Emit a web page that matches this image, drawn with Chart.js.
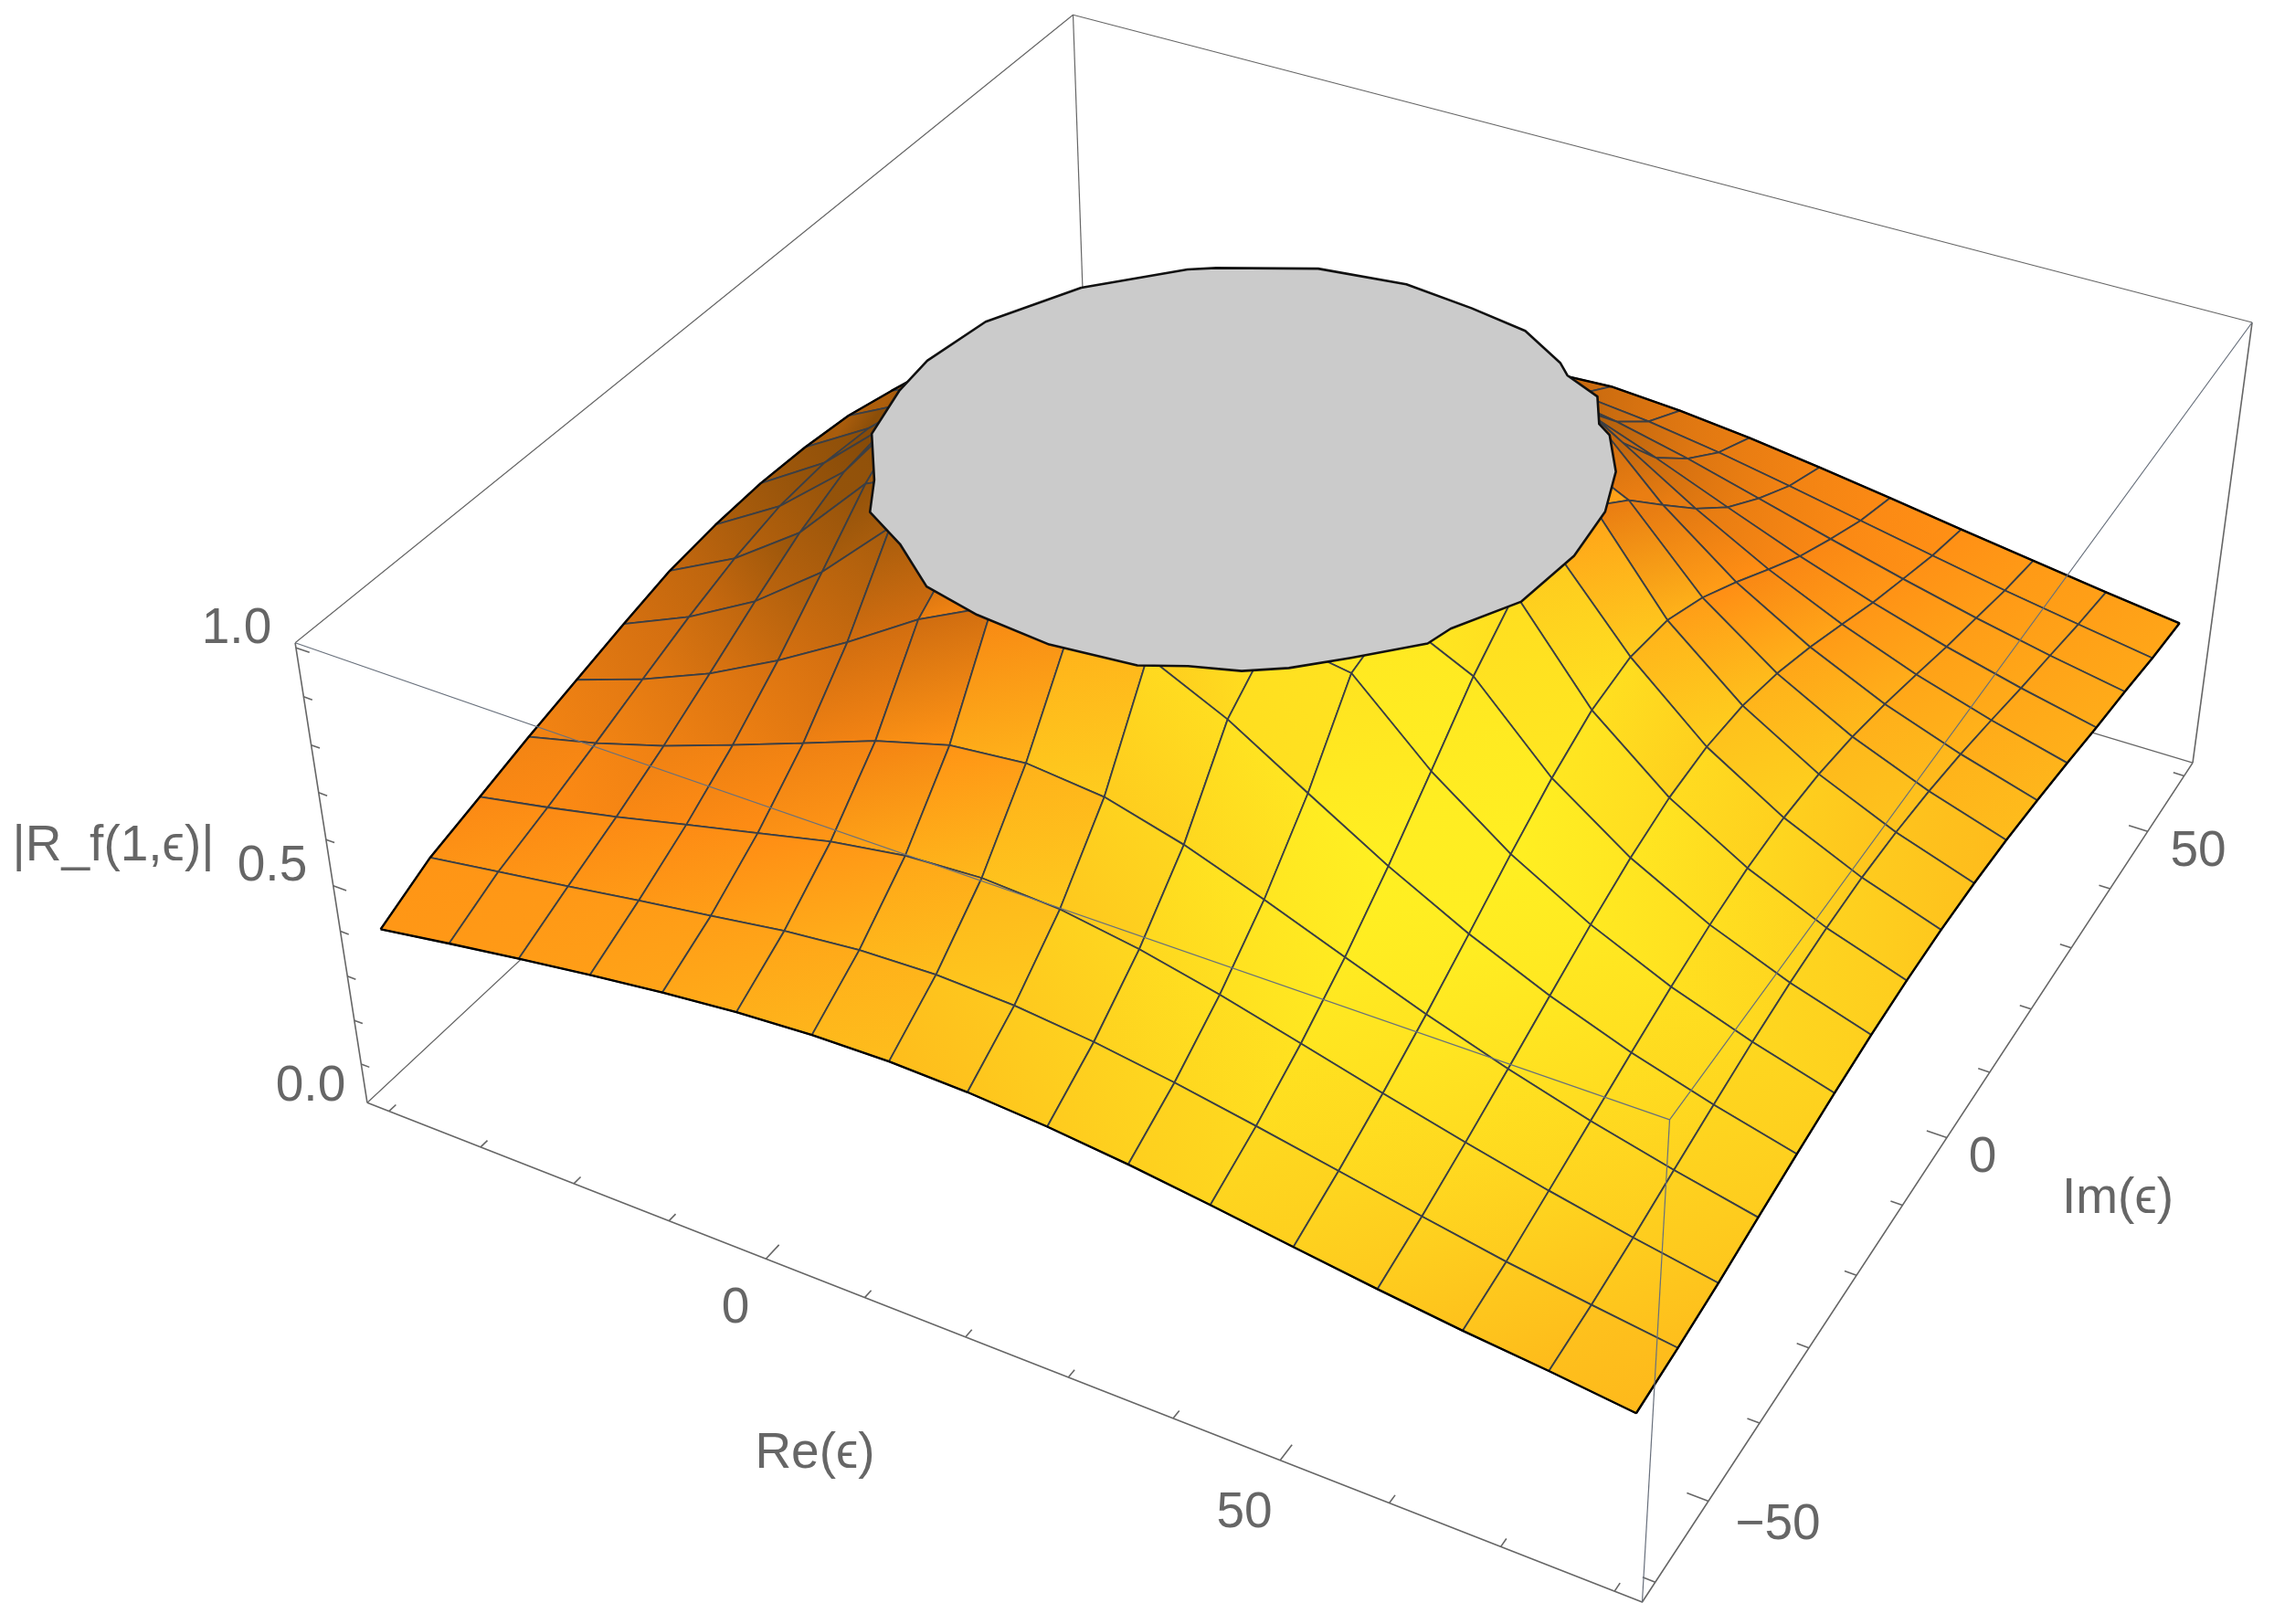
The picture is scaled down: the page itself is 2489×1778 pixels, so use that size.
<!DOCTYPE html>
<html>
<head>
<meta charset="utf-8">
<style>
  html, body { margin: 0; padding: 0; background: #fff; }
  canvas { display: block; }
</style>
<script src="https://cdn.jsdelivr.net/npm/chart.js@4"></script>
</head>
<body>
<canvas id="chart" width="2489" height="1778"></canvas>
<script>
// grid of the surface
const reValues = [-40, -32.5, -25, -17.5, -10, -2.5, 5, 12.5, 20, 27.5, 35, 42.5, 50, 57.5, 65, 72.5, 80]
const imValues = [-60, -52.5, -45, -37.5, -30, -22.5, -15, -7.5, 0, 7.5, 15, 22.5, 30, 37.5, 45, 52.5, 60]

// |R_f|, one row per Im value, clipped at 1
const zRows = [
  [.389, .415, .440, .463, .484, .501, .512, .516, .512, .501, .484, .462, .438, .415, .394, .377, .357],
  [.443, .468, .492, .518, .542, .567, .584, .590, .584, .567, .542, .512, .480, .448, .417, .392, .368],
  [.476, .507, .541, .579, .616, .653, .679, .688, .679, .653, .616, .573, .529, .487, .448, .413, .382],
  [.510, .549, .596, .651, .708, .766, .810, .826, .810, .766, .708, .645, .584, .529, .480, .438, .401],
  [.540, .593, .657, .736, .826, .924, 1, 1, 1, .924, .826, .730, .645, .573, .512, .462, .419],
  [.570, .636, .720, .832, .974, 1, 1, 1, 1, 1, .974, .826, .708, .616, .542, .484, .435],
  [.597, .673, .778, .930, 1, 1, 1, 1, 1, 1, 1, .924, .766, .653, .567, .501, .448],
  [.610, .699, .822, 1, 1, 1, 1, 1, 1, 1, 1, 1, .810, .679, .584, .512, .456],
  [.615, .708, .838, 1, 1, 1, 1, 1, 1, 1, 1, 1, .826, .688, .590, .516, .459],
  [.610, .699, .822, 1, 1, 1, 1, 1, 1, 1, 1, 1, .810, .679, .584, .512, .456],
  [.597, .673, .778, .930, 1, 1, 1, 1, 1, 1, 1, .924, .766, .653, .567, .501, .448],
  [.570, .636, .720, .832, .974, 1, 1, 1, 1, 1, .974, .826, .708, .616, .542, .484, .435],
  [.540, .593, .657, .736, .826, .924, 1, 1, 1, .924, .826, .730, .645, .573, .512, .462, .419],
  [.510, .549, .596, .651, .708, .766, .810, .826, .810, .766, .708, .645, .584, .529, .480, .438, .401],
  [.462, .499, .537, .577, .616, .653, .679, .688, .683, .657, .620, .577, .533, .491, .452, .417, .386],
  [.430, .455, .484, .514, .542, .567, .584, .590, .590, .573, .548, .518, .486, .454, .423, .395, .368],
  [.389, .413, .438, .462, .484, .501, .512, .516, .524, .513, .496, .474, .450, .425, .401, .377, .355]
]

// outline of the clipped top
const capRe = [-14.8, -19.4, -20.5, -20, -18.3, -14.1, -11.7, -6.8, -1.4, 4.5, 12, 19.9, 23.6, 27.8, 31, 34.8, 39.4, 40.1, 43.5, 44.4, 43.8, 41.9, 38.9, 37.3, 35.2, 31.3, 29.8, 24.6, 18.5, 11.3, 2.8, -5.6, -7.8]
const capIm = [17.7, 8.4, .2, -5.2, -12.4, -18.5, -22.9, -25.8, -30.1, -31.6, -32.4, -31.5, -29.6, -28.1, -25.9, -22.2, -17.4, -14.6, -8.3, -.1, 7.2, 13.3, 18.3, 19.5, 23.5, 25.4, 27, 30.4, 31.6, 32.5, 31.1, 26.7, 25.2]

const reTicks = [-40, -30, -20, -10, 0, 10, 20, 30, 40, 50, 60, 70, 80]
const imTicks = [-60, -50, -40, -30, -20, -10, 0, 10, 20, 30, 40, 50, 60]
const zTicks = [.1, .2, .3, .4, .5, .6, .7, .8, .9, 1]
const majorRe = [0, 50]
const majorIm = [-50, 0, 50]
const majorZ = [.5, 1]

// ── Projection ───────────────────────────────────────────────────────────
// box ranges, and where the eight box corners sit on the image plane

const reBox = [-42.4, 82.4], imBox = [-62.4, 62.4], zBox = [.01, 1.01]

const boxCorners = [
  [0, 0, 0, 402, 1207], [1, 0, 0, 1798, 1754], [1, 1, 0, 2400, 835], [0, 1, 0, 1190, 472],
  [0, 0, 1, 323, 704],  [1, 0, 1, 1827, 1226], [1, 1, 1, 2465, 353], [0, 1, 1, 1175, 16]
]

function solve(A, b) {
  const n = b.length
  for (let c = 0; c < n; c++) {
    let p = c
    for (let r = c + 1; r < n; r++) if (Math.abs(A[r][c]) > Math.abs(A[p][c])) p = r
    ;[A[c], A[p]] = [A[p], A[c]]; [b[c], b[p]] = [b[p], b[c]]
    for (let r = c + 1; r < n; r++) {
      const f = A[r][c] / A[c][c]
      for (let k = c; k < n; k++) A[r][k] -= f * A[c][k]
      b[r] -= f * b[c]
    }
  }
  const x = new Array(n)
  for (let r = n - 1; r >= 0; r--) {
    let s = b[r]
    for (let k = r + 1; k < n; k++) s -= A[r][k] * x[k]
    x[r] = s / A[r][r]
  }
  return x
}

function fitCamera() {
  const rows = [], rhs = []
  for (const [X, Y, Z, u, v] of boxCorners) {
    const U = u / 1000, V = v / 1000
    rows.push([X, Y, Z, 1, 0, 0, 0, 0, -U * X, -U * Y, -U * Z]); rhs.push(U)
    rows.push([0, 0, 0, 0, X, Y, Z, 1, -V * X, -V * Y, -V * Z]); rhs.push(V)
  }
  const N = Array.from({ length: 11 }, () => new Array(11).fill(0))
  const t = new Array(11).fill(0)
  rows.forEach((r, k) => {
    for (let i = 0; i < 11; i++) {
      t[i] += r[i] * rhs[k]
      for (let j = 0; j < 11; j++) N[i][j] += r[i] * r[j]
    }
  })
  return solve(N, t)
}

const cam = fitCamera()

function project(re, im, z) {
  const X = (re - reBox[0]) / (reBox[1] - reBox[0])
  const Y = (im - imBox[0]) / (imBox[1] - imBox[0])
  const Z = (z - zBox[0]) / (zBox[1] - zBox[0])
  const w = cam[8] * X + cam[9] * Y + cam[10] * Z + 1
  return {
    x: 1000 * (cam[0] * X + cam[1] * Y + cam[2] * Z + cam[3]) / w,
    y: 1000 * (cam[4] * X + cam[5] * Y + cam[6] * Z + cam[7]) / w
  }
}

// ── Shading ──────────────────────────────────────────────────────────────

const light = [.5, -.4, .77]
const ramp = [
  [.10, [96, 52, 6]], [.35, [150, 84, 10]], [.55, [210, 110, 16]], [.74, [255, 140, 20]],
  [.80, [255, 165, 24]], [.887, [254, 196, 29]], [1, [255, 240, 34]]
]

function rampColor(t) {
  if (t <= ramp[0][0]) return `rgb(${ramp[0][1]})`
  for (let k = 1; k < ramp.length; k++) {
    if (t <= ramp[k][0]) {
      const [t0, c0] = ramp[k - 1], [t1, c1] = ramp[k]
      const f = (t - t0) / (t1 - t0)
      return `rgb(${c0.map((c, i) => Math.round(c + (c1[i] - c) * f))})`
    }
  }
  return `rgb(${ramp[ramp.length - 1][1]})`
}

function slopeAt(prev, mid, next) {
  const p = prev !== undefined && prev < 1, n = next !== undefined && next < 1
  if (p && n) return (next - prev) / 2
  if (n) return next - mid
  if (p) return mid - prev
  return 0
}

function openShade(i, j) {
  const k = .4 * 125 / 7.5
  const gx = k * slopeAt(zRows[j][i - 1], zRows[j][i], zRows[j][i + 1])
  const gy = k * slopeAt(zRows[j - 1]?.[i], zRows[j][i], zRows[j + 1]?.[i])
  const len = Math.hypot(gx, gy, 1)
  return (-gx * light[0] - gy * light[1] + light[2]) / len
}

// a clipped vertex has no slope of its own, it takes the mean of its open neighbours
function shadeAt(i, j) {
  if (zRows[j][i] < 1) return openShade(i, j)
  let sum = 0, n = 0
  for (let b = j - 1; b <= j + 1; b++) {
    for (let a = i - 1; a <= i + 1; a++) {
      if (zRows[b][a] < 1) { sum += openShade(a, b); n++ }
    }
  }
  return n ? sum / n : .5
}

const canvas = document.getElementById("chart")
const ctx = canvas.getContext("2d")

function cellFill(i, j, pts) {
  const t = [shadeAt(i, j), shadeAt(i + 1, j), shadeAt(i + 1, j + 1), shadeAt(i, j + 1)]
  const a = Math.abs(t[0] - t[2]) >= Math.abs(t[1] - t[3]) ? 0 : 1
  const g = ctx.createLinearGradient(pts[a].x, pts[a].y, pts[a + 2].x, pts[a + 2].y)
  g.addColorStop(0, rampColor(t[a]))
  g.addColorStop(1, rampColor(t[a + 2]))
  return g
}

// ── Datasets ─────────────────────────────────────────────────────────────

let drawOrder = 100000
const datasets = []

function addLine(points, color, width, extra) {
  datasets.push({
    data: points, showLine: true, pointRadius: 0, borderColor: color, borderWidth: width,
    tension: 0, fill: false, clip: false, order: drawOrder--, borderJoinStyle: "round",
    ...extra
  })
}

const boxColor = "#666"
const P = (a, b, c) => project(reBox[a], imBox[b], c ? zBox[1] : zBox[0])

// back of the box goes under the surface
addLine([P(0, 0, 0), P(0, 1, 0), P(1, 1, 0)], boxColor, 1.2)
addLine([P(0, 0, 1), P(0, 1, 1), P(1, 1, 1)], boxColor, 1.2)
addLine([P(0, 1, 0), P(0, 1, 1)], boxColor, 1.2)
addLine([P(0, 0, 0), P(1, 0, 0), P(1, 1, 0)], boxColor, 1.6)
addLine([P(0, 0, 0), P(0, 0, 1)], boxColor, 1.6)
addLine([P(1, 1, 0), P(1, 1, 1)], boxColor, 1.6)

// ticks point into the box
for (const re of reTicks) {
  const len = majorRe.includes(re) ? 2 : 1
  addLine([project(re, imBox[0], zBox[0]), project(re, imBox[0] + len, zBox[0])], boxColor, 1.6)
}
for (const im of imTicks) {
  const len = majorIm.includes(im) ? 1.9 : 1.1
  addLine([project(reBox[1], im, zBox[0]), project(reBox[1] - len, im, zBox[0])], boxColor, 1.6)
}
for (const z of zTicks) {
  const len = majorZ.includes(z) ? 1.4 : .9
  addLine([project(reBox[0], imBox[0], z), project(reBox[0] + len, imBox[0], z)], boxColor, 1.6)
}

// surface cells, far corner first
const meshColor = "#3b3f45"
for (let j = imValues.length - 2; j >= 0; j--) {
  for (let i = 0; i < reValues.length - 1; i++) {
    const pts = [[i, j], [i + 1, j], [i + 1, j + 1], [i, j + 1]]
      .map(([a, b]) => project(reValues[a], imValues[b], zRows[b][a]))
    addLine([...pts, pts[0]], meshColor, 1.8, { fill: "shape", backgroundColor: cellFill(i, j, pts) })
  }
}

// outline of the surface
const edgeColor = "#000"
addLine(reValues.map((re, i) => project(re, imValues[0], zRows[0][i])), edgeColor, 2.4)
addLine(imValues.map((im, j) => project(reValues[16], im, zRows[j][16])), edgeColor, 2.4)
addLine(reValues.map((re, i) => project(re, imValues[16], zRows[16][i])), edgeColor, 2.4)
addLine(imValues.map((im, j) => project(reValues[0], im, zRows[j][0])), edgeColor, 2.4)

// clipped top
const capPoints = capRe.map((re, k) => project(re, capIm[k], 1))
addLine([...capPoints, capPoints[0]], "#111", 2.6, { fill: "shape", backgroundColor: "#cbcbcb" })

// front of the box runs over everything
addLine([P(0, 0, 1), P(1, 0, 1), P(1, 1, 1)], "#68707c", 1.2)
addLine([P(1, 0, 1), P(1, 0, 0)], "#68707c", 1.2)

// ── Text ─────────────────────────────────────────────────────────────────

const labels = [
  ["1.0", 259, 689], ["0.5", 298, 949], ["0.0", 340, 1190],
  ["|R_f(1,\u03F5)|", 124, 927],
  ["0", 805, 1433], ["50", 1362, 1657], ["Re(\u03F5)", 892, 1592],
  ["\u221250", 1946, 1670], ["0", 2170, 1268], ["50", 2406, 933], ["Im(\u03F5)", 2318, 1313]
]

const textPlugin = {
  id: "plotText",
  afterDraw(chart) {
    const c = chart.ctx
    c.save()
    c.fillStyle = "#666"
    c.font = '55px "Liberation Sans"'
    c.textAlign = "center"
    c.textBaseline = "middle"
    for (const [text, x, y] of labels) c.fillText(text, x, y)
    c.restore()
  }
}

new Chart(canvas, {
  type: "scatter",
  data: { datasets },
  plugins: [textPlugin],
  options: {
    responsive: false,
    animation: false,
    events: [],
    layout: { padding: 0 },
    plugins: { legend: { display: false }, tooltip: { enabled: false } },
    scales: {
      x: { type: "linear", display: false, min: 0, max: 2489 },
      y: { type: "linear", display: false, min: 0, max: 1778, reverse: true }
    }
  }
})
</script>
</body>
</html>
